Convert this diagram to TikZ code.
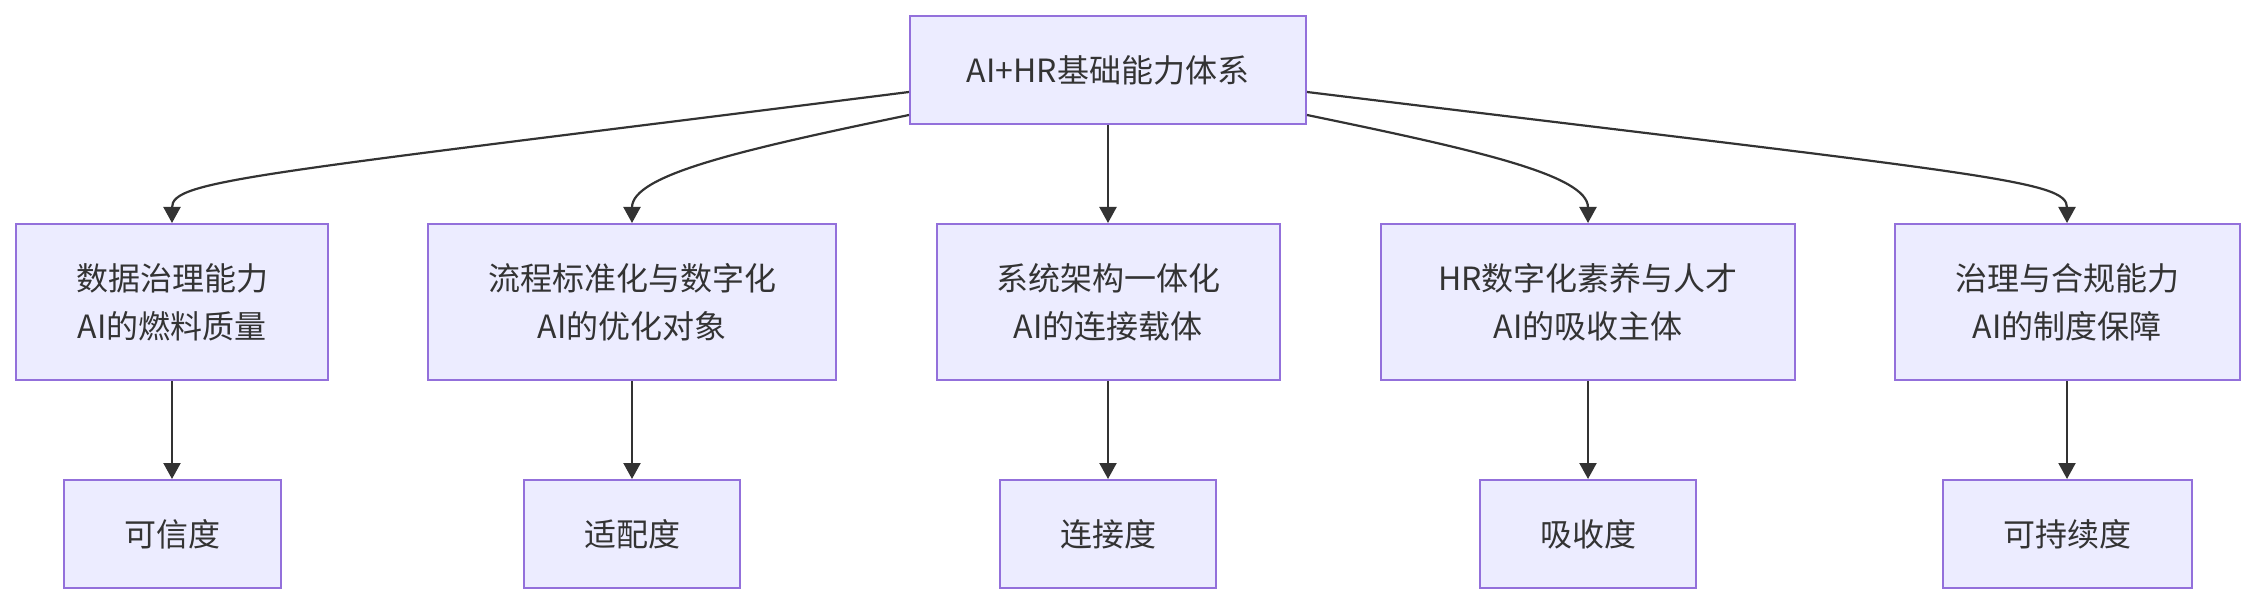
\documentclass[tikz,border=0pt]{standalone}
\usepackage{fontspec}
\setmainfont{Noto Sans CJK SC}
\usetikzlibrary{arrows.meta}
\definecolor{nodefill}{HTML}{ECECFF}
\definecolor{nodeline}{HTML}{9370DB}
\definecolor{ink}{HTML}{333333}
\begin{document}
\begin{tikzpicture}[x=0.5pt,y=-0.5pt,
  box/.style={draw=nodeline, fill=nodefill, line width=1pt, text=ink,
    font=\fontsize{16}{24}\selectfont, align=center, inner sep=0pt},
  link/.style={draw=ink, line width=1.1pt, -{Triangle[length=8pt,width=8.5pt]}}]
\useasboundingbox (0,0) rectangle (2255,604);
\node[box, minimum width=198pt, minimum height=54pt] (top) at (1108,70) {AI+HR基础能力体系};
\node[box, minimum width=156pt, minimum height=78pt] (n1) at (172,302) {数据治理能力\\AI的燃料质量};
\node[box, minimum width=204pt, minimum height=78pt] (n2) at (632,302) {流程标准化与数字化\\AI的优化对象};
\node[box, minimum width=171.5pt, minimum height=78pt] (n3) at (1108,302) {系统架构一体化\\AI的连接载体};
\node[box, minimum width=207pt, minimum height=78pt] (n4) at (1588,302) {HR数字化素养与人才\\AI的吸收主体};
\node[box, minimum width=172.5pt, minimum height=78pt] (n5) at (2067,302) {治理与合规能力\\AI的制度保障};
\node[box, minimum width=108.5pt, minimum height=54pt] (b1) at (172,534) {可信度};
\node[box, minimum width=108pt, minimum height=54pt] (b2) at (632,534) {适配度};
\node[box, minimum width=108pt, minimum height=54pt] (b3) at (1108,534) {连接度};
\node[box, minimum width=108pt, minimum height=54pt] (b4) at (1588,534) {吸收度};
\node[box, minimum width=124.5pt, minimum height=54pt] (b5) at (2067,534) {可持续度};
\draw[link] ([yshift=-11pt]top.west) .. controls (250,175) and (172,180) .. (n1.north);
\draw[link] ([yshift=-22.5pt]top.west) .. controls (740,150) and (632,175) .. (n2.north);
\draw[link] (top.south) -- (n3.north);
\draw[link] ([yshift=-22.5pt]top.east) .. controls (1476,150) and (1588,175) .. (n4.north);
\draw[link] ([yshift=-11pt]top.east) .. controls (1989,175) and (2067,180) .. (n5.north);
\draw[link] (n1.south) -- (b1.north);
\draw[link] (n2.south) -- (b2.north);
\draw[link] (n3.south) -- (b3.north);
\draw[link] (n4.south) -- (b4.north);
\draw[link] (n5.south) -- (b5.north);
\end{tikzpicture}
\end{document}
